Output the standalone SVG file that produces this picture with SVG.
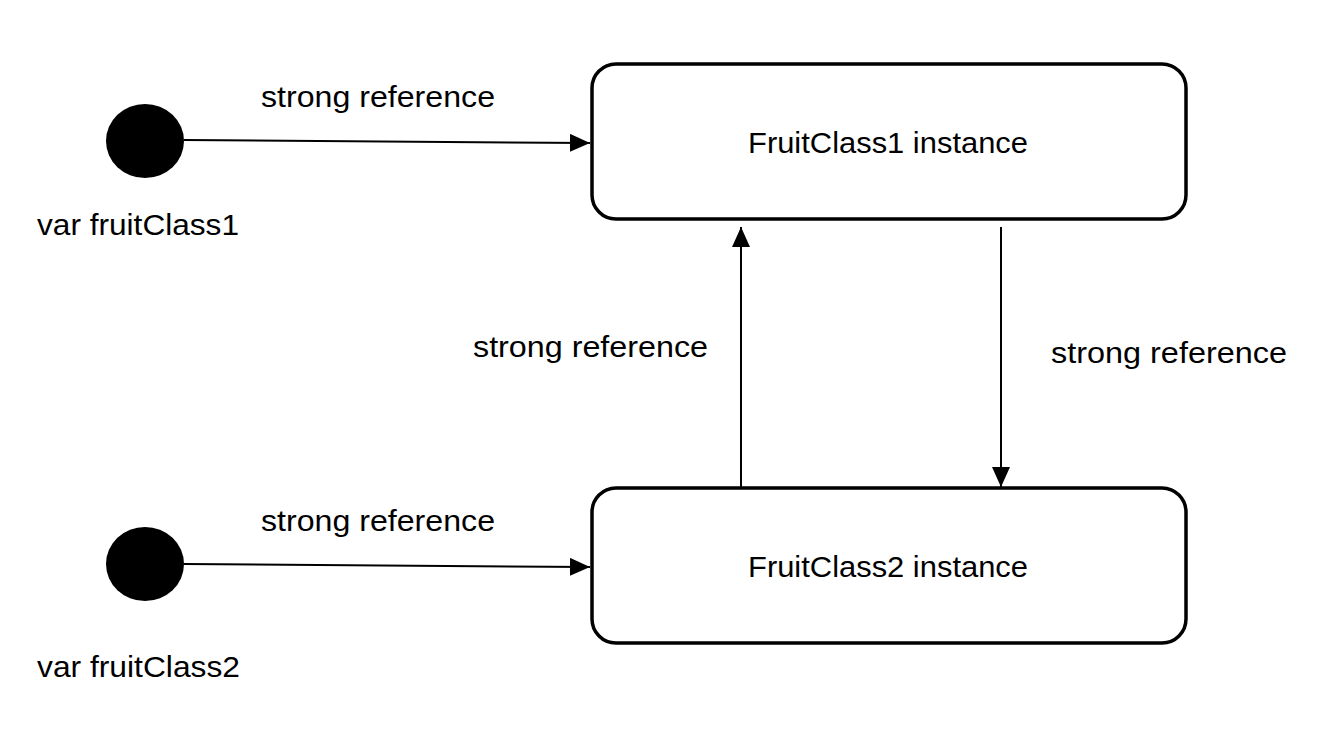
<svg xmlns="http://www.w3.org/2000/svg" width="1328" height="738" viewBox="0 0 1328 738">
<style>
.lbl{font-family:"Liberation Sans",Arial,sans-serif;font-size:30px;fill:#000}
.box{fill:#fff;stroke:#000;stroke-width:3.5}
.conn{stroke:#000;stroke-width:2;fill:none}
.dot{fill:#000}
</style>
<defs>
<marker id="arr" viewBox="0 0 20 18" refX="20" refY="9" markerWidth="20" markerHeight="18" markerUnits="userSpaceOnUse" orient="auto">
<path d="M0,0 L20,9 L0,18 Z" fill="#000"/>
</marker>
</defs>
<rect width="1328" height="738" fill="#fff"/>
<g id="var1">
<ellipse class="dot" cx="145" cy="141" rx="39" ry="37"/>
<text class="lbl" x="37" y="235" textLength="202" lengthAdjust="spacingAndGlyphs">var fruitClass1</text>
</g>
<g id="var2">
<ellipse class="dot" cx="145" cy="564" rx="39" ry="37"/>
<text class="lbl" x="37" y="677" textLength="203" lengthAdjust="spacingAndGlyphs">var fruitClass2</text>
</g>
<g id="fruit1">
<rect class="box" x="592" y="64" width="594" height="155" rx="24"/>
<text class="lbl" x="748" y="153" textLength="280" lengthAdjust="spacingAndGlyphs">FruitClass1 instance</text>
</g>
<g id="fruit2">
<rect class="box" x="592" y="488" width="594" height="155" rx="24"/>
<text class="lbl" x="748" y="577" textLength="280" lengthAdjust="spacingAndGlyphs">FruitClass2 instance</text>
</g>
<g id="connectors">
<line class="conn" x1="184" y1="140" x2="590" y2="143" marker-end="url(#arr)"/>
<line class="conn" x1="184" y1="564" x2="590" y2="567" marker-end="url(#arr)"/>
<line class="conn" x1="741" y1="488" x2="741" y2="227" marker-end="url(#arr)"/>
<line class="conn" x1="1001" y1="227" x2="1001" y2="487" marker-end="url(#arr)"/>
<text class="lbl" x="261" y="107" textLength="234" lengthAdjust="spacingAndGlyphs">strong reference</text>
<text class="lbl" x="261" y="531" textLength="234" lengthAdjust="spacingAndGlyphs">strong reference</text>
<text class="lbl" x="473" y="357" textLength="235" lengthAdjust="spacingAndGlyphs">strong reference</text>
<text class="lbl" x="1051" y="363" textLength="236" lengthAdjust="spacingAndGlyphs">strong reference</text>
</g>
</svg>
